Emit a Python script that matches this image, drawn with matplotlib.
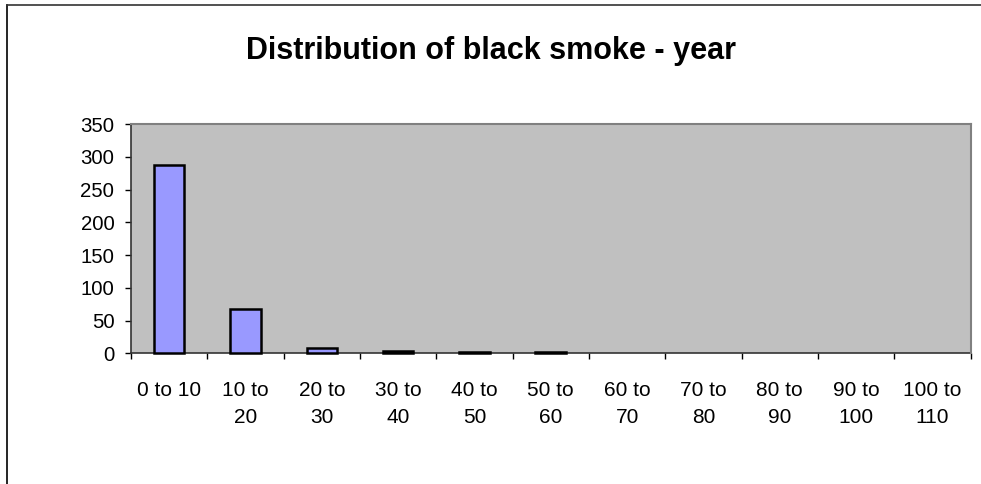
import matplotlib
matplotlib.use("Agg")
import matplotlib.pyplot as plt
from matplotlib.lines import Line2D

# Frequency of daily black smoke readings by concentration band
categories = ["0 to 10", "10 to\n20", "20 to\n30", "30 to\n40", "40 to\n50",
              "50 to\n60", "60 to\n70", "70 to\n80", "80 to\n90", "90 to\n100",
              "100 to\n110"]
counts = [287, 67, 8, 4, 2, 2, 0, 0, 0, 0, 0]
y_ticks = [0, 50, 100, 150, 200, 250, 300, 350]

plt.rcParams["font.family"] = ["Liberation Sans", "DejaVu Sans"]

W, H = 981, 484
fig = plt.figure(figsize=(W / 100, H / 100), dpi=100)
fig.patch.set_facecolor("white")

# chart frame (left and top edges)
fig.add_artist(Line2D([7 / W, 7 / W], [0, 1 - 5 / H], transform=fig.transFigure,
                      color="black", lw=1.2))
fig.add_artist(Line2D([7 / W, 1], [1 - 5 / H, 1 - 5 / H], transform=fig.transFigure,
                      color="#333333", lw=1.2))

left, right = 131 / W, 970.5 / W
bottom, top = 1 - 353.3 / H, 1 - 124 / H
ax = fig.add_axes([left, bottom, right - left, top - bottom])
ax.set_facecolor("#C0C0C0")

# only non-empty bands get a bar
x = list(range(len(categories)))
bx = [i for i, c in zip(x, counts) if c > 0]
bh = [c for c in counts if c > 0]
bars = ax.bar(bx, bh, width=0.4, color="#9999FF", edgecolor="black",
              linewidth=1.8, zorder=3)
for b in bars:
    b.set_clip_on(False)

ax.set_xlim(-0.5, len(categories) - 0.5)
ax.set_ylim(0, 350)
ax.set_yticks(y_ticks)
ax.set_yticklabels([str(v) for v in y_ticks], fontsize=14.7)

# boundary ticks between categories, labels centred on each band
ax.set_xticks([i - 0.5 for i in range(len(categories) + 1)])
ax.set_xticklabels([])
ax.set_xticks(x, minor=True)
ax.set_xticklabels(categories, minor=True, fontsize=15, multialignment="center",
                   linespacing=1.5)
ax.tick_params(axis="x", which="major", direction="out", length=4, width=1,
               color="black")
ax.tick_params(axis="x", which="minor", length=0, pad=20)
ax.tick_params(axis="y", direction="out", length=4, width=1, color="black", pad=8)

for side in ("top", "right"):
    ax.spines[side].set_color("#808080")
    ax.spines[side].set_linewidth(1.5)
for side in ("left", "bottom"):
    ax.spines[side].set_color("#333333")
    ax.spines[side].set_linewidth(1.2)
    ax.spines[side].set_zorder(2)

fig.text(491 / W, 1 - 59.3 / H, "Distribution of black smoke - year",
         ha="center", va="baseline", fontsize=22, fontweight="bold")

fig.savefig("out.png", dpi=100)
